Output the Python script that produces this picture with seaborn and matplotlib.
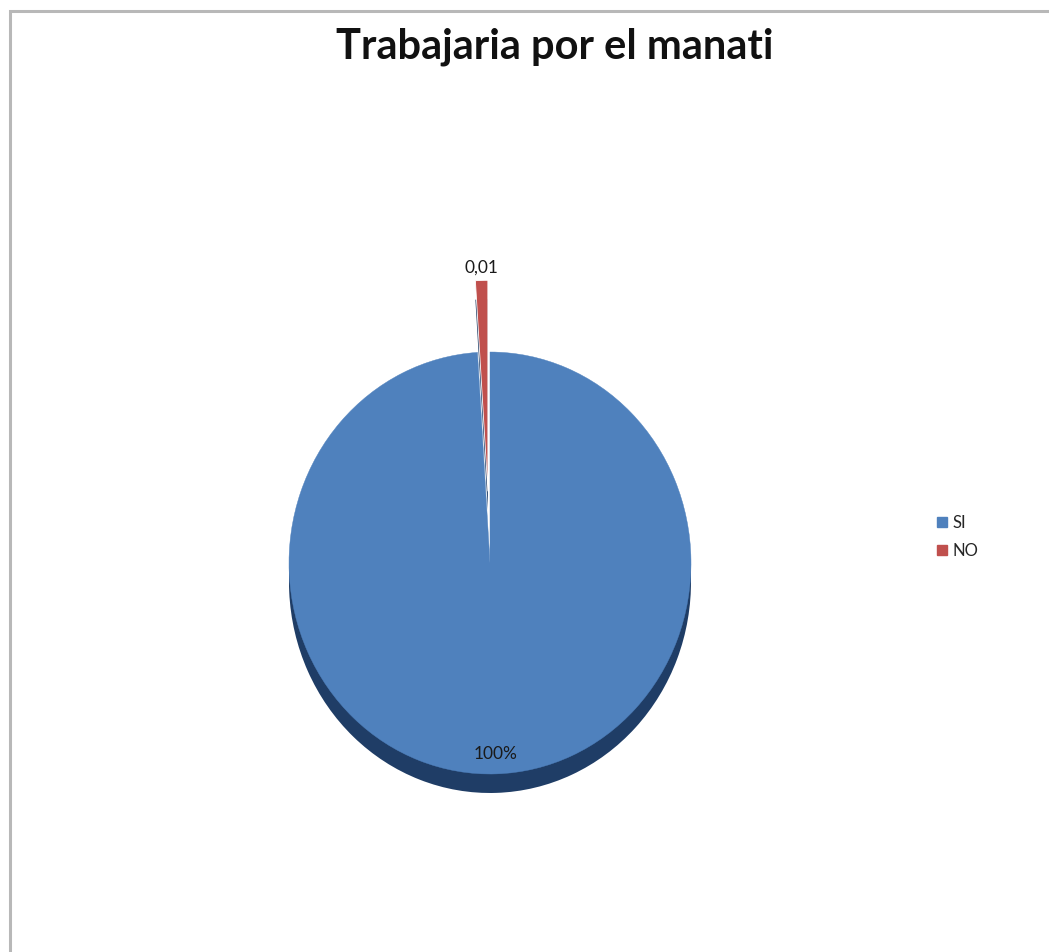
import matplotlib
matplotlib.use("Agg")
import matplotlib.pyplot as plt
import matplotlib.patches as mpatches
from matplotlib.lines import Line2D
import numpy as np
import seaborn as sns

# Survey answers: would the respondent work for the manatee?
categories = ["SI", "NO"]
values = [1.00, 0.01]
value_labels = ["100%", "0,01"]
title = "Trabajaria por el manati"

sns.set_theme(style="white")
plt.rcParams["font.family"] = ["Lato", "DejaVu Sans"]

colors = ["#4F81BD", "#C0504D"]
rim_color = "#1F3D66"

W, H, DPI = 1049, 952, 100
fig = plt.figure(figsize=(W / DPI, H / DPI), dpi=DPI)

# Chart-area frame (runs off the right and bottom edges)
fig.add_artist(mpatches.Rectangle((10 / W, -0.05), 1.1, 1 - 11 / H + 0.05,
                                  transform=fig.transFigure, fill=False,
                                  edgecolor="#B8B8B8", linewidth=2.2))

# Pie axes: centre at (490, 563) px, radii 201 px horizontal, 211 px vertical
lim = 1.6
rx, ry = 201, 211
cx, cy = 490, 563
aw, ah = 2 * lim * rx, 2 * lim * ry
ax = fig.add_axes([(cx - aw / 2) / W, (H - cy - ah / 2) / H, aw / W, ah / H])

explode = [0.0, 0.34]

# Dark rim beneath the face gives the tilted 3-D look
ax.pie(values, colors=[rim_color, rim_color], startangle=90, counterclock=False,
       explode=explode, center=(0, -0.09),
       wedgeprops=dict(linewidth=0))
wedges, _ = ax.pie(values, colors=colors, startangle=90, counterclock=False,
                   explode=explode,
                   wedgeprops=dict(linewidth=0.6, edgecolor="white"))
# Keep the white seam only between slices, not around the rim
wedges[0].set_edgecolor(colors[0])
wedges[0].set_linewidth(0.3)

ax.set_aspect("auto")
ax.set_xlim(-lim, lim)
ax.set_ylim(-lim, lim)
ax.axis("off")

# Value labels: SI inside near rim, NO outside its exploded wedge
dists = [0.905, 1.06]
for w, lab, d, e in zip(wedges, value_labels, dists, explode):
    mid = np.deg2rad((w.theta1 + w.theta2) / 2)
    r = d + e
    ax.text(r * np.cos(mid), r * np.sin(mid), lab, ha="center", va="center",
            fontsize=12.5, color="#1a1a1a")

fig.text(555 / W, 1 - 47 / H, title, ha="center", va="center",
         fontsize=30, fontweight="bold", color="#111111")

handles = [Line2D([0], [0], marker="s", linestyle="none", markersize=7,
                  markerfacecolor=c, markeredgecolor=c) for c in colors]
fig.legend(handles, categories, loc="center left",
           bbox_to_anchor=(929 / W, 1 - 537 / H), frameon=False,
           fontsize=12, handlelength=0.6, handletextpad=0.3,
           labelspacing=0.75, borderpad=0)

fig.savefig("out.png", dpi=DPI)
